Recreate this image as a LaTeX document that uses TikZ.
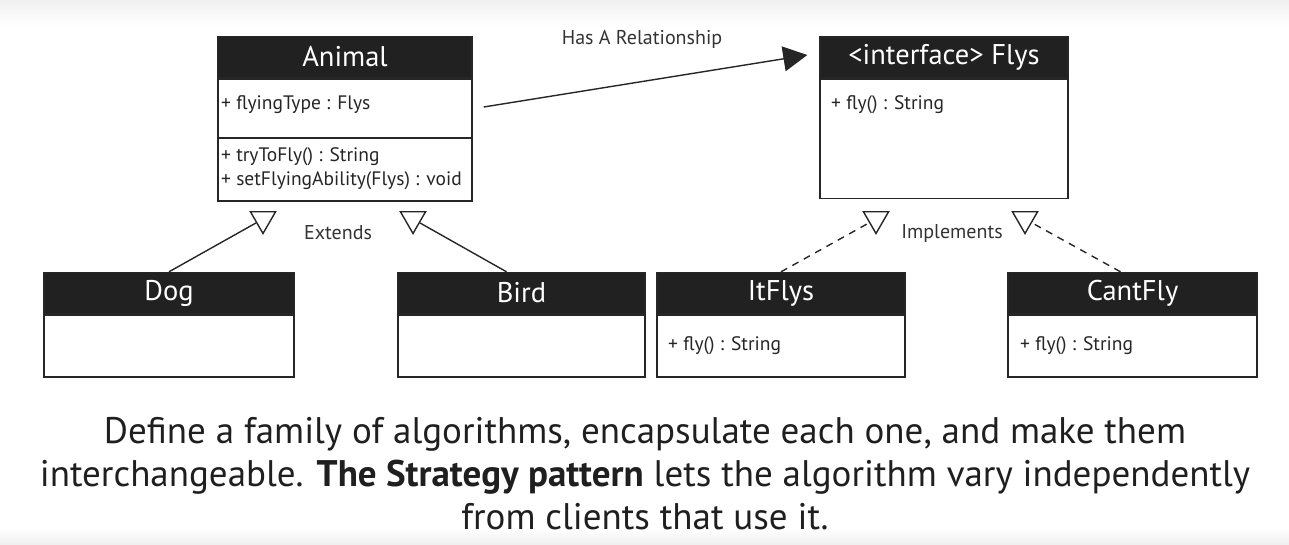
\documentclass[tikz,border=0pt]{standalone}
\usepackage{fontspec}
\setmainfont{PT Sans}
\usetikzlibrary{positioning,calc,shapes.geometric,arrows.meta}

\begin{document}
\begin{tikzpicture}[
  x=1pt, y=-1pt,
  umlhead/.style = {draw=black!85, fill=black!87, text=white, line width=1.4pt,
    font=\fontsize{28.5}{32}\selectfont, minimum height=41pt, inner sep=0pt},
  umlbody/.style = {draw=black!85, fill=white, line width=1.4pt, inner sep=0pt},
  umlmember/.style = {anchor=west, inner sep=0pt, text=black!85,
    font=\fontsize{19.5}{23}\selectfont},
  umltri/.style = {regular polygon, regular polygon sides=3, shape border rotate=180,
    draw=black!85, fill=white, line width=1.4pt, minimum size=29pt, inner sep=0pt},
  umllbl/.style = {font=\fontsize{20}{24}\selectfont, text=black!80},
  umllink/.style = {line width=1.4pt, draw=black!85},
  umlimpl/.style = {umllink, dash pattern=on 7pt off 6pt},
  strategytxt/.style = {font=\fontsize{37}{43}\selectfont, align=center, text=black!88}
]
  \useasboundingbox (0,0) rectangle (1289,544);
  % background bands
  \fill[top color=black!6, bottom color=white] (0,0) rectangle (1289,26);
  \fill[top color=white, bottom color=black!6] (0,528) rectangle (1289,544);

  % Animal
  \node[umlhead, minimum width=254pt] (animalhead) at (345,57) {Animal};
  \node[umlbody, minimum width=254pt, minimum height=122pt, below=0pt of animalhead] (animalbody) {};
  \draw[umllink] (animalbody.west |- 0,138) -- (animalbody.east |- 0,138);
  \node[umlmember] (animalattr) at (221,105) {+ flyingType : Flys};
  \node[umlmember] (animalop1) at (221,157) {+ tryToFly() : String};
  \node[umlmember] (animalop2) at (221,181) {+ setFlyingAbility(Flys) : void};

  % Flys
  \node[umlhead, minimum width=248pt] (flyshead) at (944,57.5) {<interface> Flys};
  \node[umlbody, minimum width=248pt, minimum height=119pt, below=0pt of flyshead] (flysbody) {};
  \node[umlmember] (flysop) at (831,105) {+ fly() : String};

  % subclasses
  \node[umlhead, minimum width=250pt] (doghead) at (169,293) {Dog};
  \node[umlbody, minimum width=250pt, minimum height=62pt, below=0pt of doghead] (dogbody) {};
  \node[umlhead, minimum width=247pt] (birdhead) at (521.5,293) {Bird};
  \node[umlbody, minimum width=247pt, minimum height=62pt, below=0pt of birdhead] (birdbody) {};
  \node[umlhead, minimum width=248pt] (itflyshead) at (781,293) {ItFlys};
  \node[umlbody, minimum width=248pt, minimum height=62pt, below=0pt of itflyshead] (itflysbody) {};
  \node[umlmember] (itflysop) at (668,346) {+ fly() : String};
  \node[umlhead, minimum width=249pt] (cantflyhead) at (1132.5,293) {CantFly};
  \node[umlbody, minimum width=249pt, minimum height=62pt, below=0pt of cantflyhead] (cantflybody) {};
  \node[umlmember] (cantflyop) at (1020,346) {+ fly() : String};

  % has a
  \node[umllbl] (hasalbl) at (642,39) {Has A Relationship};
  \draw[umllink, -{Triangle[length=24pt,width=25pt]}]
    ($(animalbody.east |- animalattr)+(11,2)$) -- ($(flyshead.west)+(-12,-2.5)$);

  % extends
  \node[umltri] (exttri1) at (263,219) {};
  \node[umltri] (exttri2) at (413,219) {};
  \node[umllbl] (extlbl) at (338,233) {Extends};
  \draw[umllink] (doghead.north) -- (exttri1);
  \draw[umllink] ([xshift=-15pt]birdhead.north) -- (exttri2);

  % implements
  \node[umltri] (imptri1) at (876,219) {};
  \node[umltri] (imptri2) at (1025,219) {};
  \node[umllbl] (implbl) at (952,233) {Implements};
  \draw[umlimpl] (itflyshead.north) -- (imptri1);
  \draw[umlimpl] ([xshift=-12pt]cantflyhead.north) -- (imptri2);

  % definition
  \node[strategytxt] (strategy) at (645,474)
    {Define a family of algorithms, encapsulate each one, and make them\\
     interchangeable. \textbf{The Strategy pattern} lets the algorithm vary independently\\
     from clients that use it.};
\end{tikzpicture}
\end{document}
